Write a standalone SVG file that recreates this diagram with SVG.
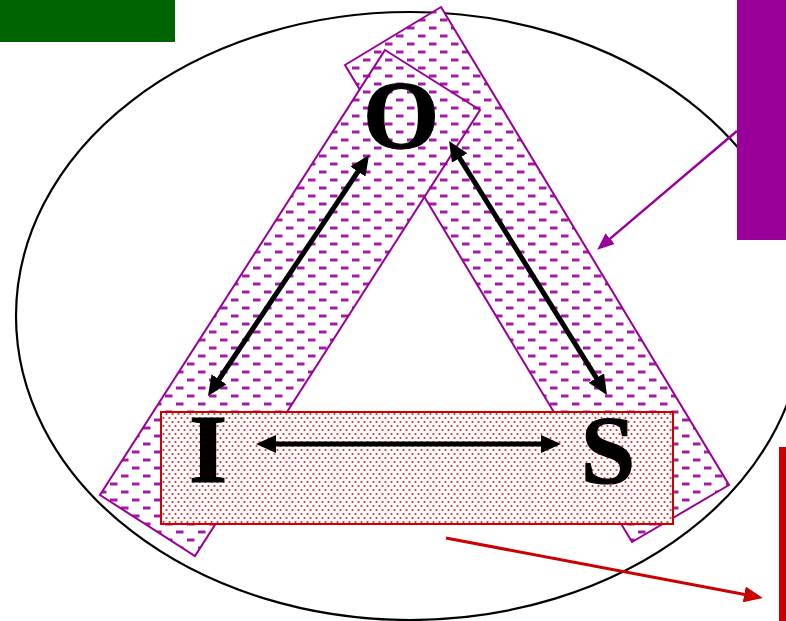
<svg xmlns="http://www.w3.org/2000/svg" width="786" height="621" viewBox="0 0 786 621">
  <defs>
    <pattern id="dashes" patternUnits="userSpaceOnUse" width="22" height="16">
      <rect width="22" height="16" fill="#ffffff"/>
      <rect x="0" y="2.5" width="7.5" height="3" fill="#a41ca4"/>
      <rect x="11" y="10.5" width="7.5" height="3" fill="#a41ca4"/>
    </pattern>
    <pattern id="dots" patternUnits="userSpaceOnUse" width="6" height="8">
      <rect width="6" height="8" fill="#ffffff"/>
      <circle cx="1.5" cy="2" r="1.1" fill="#e02828"/>
      <circle cx="4.5" cy="6" r="1.1" fill="#e02828"/>
    </pattern>
    <marker id="blackHead" markerUnits="userSpaceOnUse" viewBox="0 0 20 18" markerWidth="20" markerHeight="18" refX="14" refY="9" orient="auto-start-reverse">
      <path d="M0,0 L20,9 L0,18 z" fill="#000000"/>
    </marker>
    <marker id="purpleHead" markerUnits="userSpaceOnUse" viewBox="0 0 17 14" markerWidth="17" markerHeight="14" refX="12" refY="7" orient="auto">
      <path d="M0,0 L17,7 L0,14 z" fill="#990099"/>
    </marker>
    <marker id="redHead" markerUnits="userSpaceOnUse" viewBox="0 0 19 16" markerWidth="19" markerHeight="16" refX="14" refY="8" orient="auto">
      <path d="M0,0 L19,8 L0,16 z" fill="#cc0000"/>
    </marker>
    <style>
      .bar { fill: url(#dashes); stroke: #990099; stroke-width: 2; }
      .label { font-family: "Liberation Serif", "Times New Roman", serif; font-weight: bold; font-size: 98px; fill: #000000; text-anchor: middle; stroke: #000000; stroke-width: 1.2; }
      .dbl { stroke: #000000; stroke-width: 5; fill: none; marker-start: url(#blackHead); marker-end: url(#blackHead); }
    </style>
  </defs>

  <rect width="786" height="621" fill="#ffffff"/>

  <g id="boundary">
    <ellipse cx="410" cy="316" rx="394" ry="304" fill="none" stroke="#000000" stroke-width="2.2"/>
  </g>

  <g id="bar-right">
    <polygon class="bar" points="441,7 729,485 632,542 345,65"/>
  </g>
  <g id="bar-left">
    <polygon class="bar" points="385,50 480,110 195,556 100,495"/>
  </g>
  <g id="bar-bottom">
    <rect x="161" y="412" width="512" height="112" fill="url(#dots)" stroke="#cc0000" stroke-width="2"/>
  </g>

  <g id="node-O">
    <text class="label" x="401" y="148">O</text>
  </g>
  <g id="node-I">
    <text class="label" x="208" y="482">I</text>
  </g>
  <g id="node-S">
    <text class="label" x="608" y="483">S</text>
  </g>

  <g id="connectors">
    <line class="dbl" x1="262" y1="444" x2="555" y2="444"/>
    <line class="dbl" x1="211.3" y1="391" x2="365.7" y2="160"/>
    <line class="dbl" x1="452.2" y1="146.1" x2="603.8" y2="389.9"/>
    <line x1="737" y1="131" x2="601" y2="246.4" stroke="#990099" stroke-width="2.4" marker-end="url(#purpleHead)"/>
    <line x1="446" y1="538" x2="758" y2="597" stroke="#cc0000" stroke-width="3" marker-end="url(#redHead)"/>
  </g>

  <g id="legend-green">
    <rect x="0" y="0" width="175" height="42" fill="#006400"/>
  </g>
  <g id="legend-purple">
    <rect x="737" y="0" width="49" height="240" fill="#990099"/>
  </g>
  <g id="legend-red">
    <rect x="779" y="447" width="7" height="174" fill="#cc0000"/>
  </g>
</svg>
